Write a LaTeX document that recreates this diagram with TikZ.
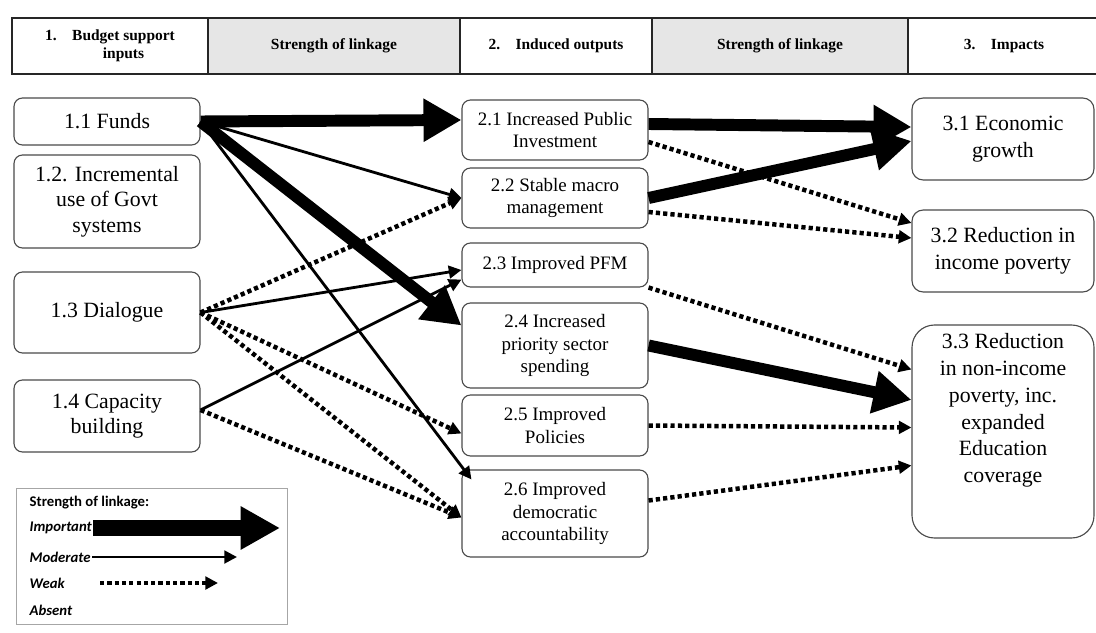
\documentclass[tikz,border=0pt]{standalone}
\usepackage{fontspec}
\setmainfont{Liberation Serif}
\newfontfamily\legendfont{Carlito}
\usepackage{tikz}
\usetikzlibrary{arrows.meta, calc}
\definecolor{boxgray}{HTML}{4A4A4A}
\definecolor{headfill}{HTML}{E6E6E6}

\begin{document}
\begin{tikzpicture}[
    head/.style={rectangle, draw=black!85, line width=0.9pt, minimum height=1.4cm, align=center, inner sep=0pt, font=\fontsize{11}{12.5}\selectfont\bfseries},
    headlink/.style={head, fill=headfill},
    input/.style={rectangle, rounded corners=6pt, draw=boxgray, fill=white, line width=0.8pt, minimum width=4.65cm, align=center, font=\fontsize{15.5}{18}\selectfont},
    output/.style={input, font=\fontsize{13.5}{16.3}\selectfont},
    impact/.style={input, rounded corners=8pt, minimum width=4.55cm, font=\fontsize{15.5}{19}\selectfont},
    legtext/.style={inner sep=1pt, font=\legendfont\fontsize{10.5}{12}\selectfont\bfseries\itshape},
    important/.style={line width=8.5pt, -{Triangle[length=27pt, width=29pt]}},
    moderate/.style={line width=2pt, -{Triangle[length=9pt, width=9pt]}},
    weak/.style={line width=3.2pt, dash pattern=on 3pt off 2.2pt, -{Triangle[length=9pt, width=9pt]}}
]
\useasboundingbox (0,0) rectangle (27.4,-15.825);

% Header row
\node[head, minimum width=4.9cm] (hin) at (2.75,-1.15) {1.\quad Budget support\\\hphantom{1.\quad}inputs};
\node[headlink, minimum width=6.3cm] (hlink1) at (8.35,-1.15) {Strength of linkage};
\node[head, minimum width=4.8cm] (hout) at (13.9,-1.15) {2.\quad Induced outputs};
\node[headlink, minimum width=6.4cm] (hlink2) at (19.5,-1.15) {Strength of linkage};
\node[head, minimum width=4.8cm] (himp) at (25.1,-1.15) {3.\quad Impacts};

% Budget support inputs
\node[input, minimum height=1.175cm] (funds) at (2.675,-3.0375) {1.1 Funds};
\node[input, minimum height=2.325cm] (govt) at (2.675,-5.0375) {1.2. Incremental\\use of Govt\\systems};
\node[input, minimum height=2.025cm] (dialogue) at (2.675,-7.8125) {1.3 Dialogue};
\node[input, minimum height=1.8cm] (capacity) at (2.675,-10.4) {1.4 Capacity\\building};

% Induced outputs
\node[output, minimum height=1.5cm] (invest) at (13.875,-3.25) {2.1 Increased Public\\Investment};
\node[output, minimum height=1.5cm] (macro) at (13.875,-4.95) {2.2 Stable macro\\management};
\node[output, minimum height=1.1cm] (pfm) at (13.875,-6.625) {2.3 Improved PFM};
\node[output, minimum height=2.125cm] (priority) at (13.875,-8.6375) {2.4 Increased\\priority sector\\spending};
\node[output, minimum height=1.525cm] (policies) at (13.875,-10.6375) {2.5 Improved\\Policies};
\node[output, minimum height=2.175cm] (account) at (13.875,-12.8375) {2.6 Improved\\democratic\\accountability};

% Impacts
\node[impact, minimum height=2.05cm] (growth) at (25.075,-3.475) {3.1 Economic\\growth};
\node[impact, minimum height=2.05cm] (income) at (25.075,-6.275) {3.2 Reduction in\\income poverty};
\node[impact, rounded corners=16pt, minimum height=5.325cm] (nonincome) at (25.075,-10.7875) {3.3 Reduction\\in non-income\\poverty, inc.\\expanded\\Education\\coverage\\[0.5cm]};

% Inputs -> outputs
\draw[important] (funds.east) -- ([yshift=0.25cm]invest.west);
\draw[moderate] (funds.east) -- (macro.west);
\draw[important] (funds.east) -- ([yshift=0.5cm]priority.west);
\draw[moderate] (funds.east) -- ([shift={(0.25,-0.25)}]account.north west);
\draw[weak] (dialogue.east) -- (macro.west);
\draw[moderate] (dialogue.east) -- ([yshift=-0.125cm]pfm.west);
\draw[weak] (dialogue.east) -- ([yshift=-0.2cm]policies.west);
\draw[weak] (dialogue.east) -- ([yshift=-0.1cm]account.west);
\draw[moderate] ([yshift=0.15cm]capacity.east) -- ([yshift=0.2cm]pfm.south west);
\draw[weak] ([yshift=0.15cm]capacity.east) -- ([yshift=-0.1cm]account.west);

% Outputs -> impacts
\draw[important] ([yshift=0.15cm]invest.east) -- ([yshift=0.3cm]growth.west);
\draw[weak] ([yshift=-0.3cm]invest.east) -- ([yshift=0.7cm]income.west);
\draw[important] (macro.east) -- ([yshift=-0.05cm]growth.west);
\draw[weak] ([yshift=-0.35cm]macro.east) -- ([yshift=0.325cm]income.west);
\draw[weak] (pfm.south east) -- ([yshift=1.55cm]nonincome.west);
\draw[important] (priority.east) -- ([yshift=0.79cm]nonincome.west);
\draw[weak] (policies.east) -- ([yshift=0.1cm]nonincome.west);
\draw[weak] ([yshift=0.325cm]account.east) -- ([yshift=-0.85cm]nonincome.west);

% Legend
\node[draw=gray!70, line width=0.6pt, minimum width=6.775cm, minimum height=3.4cm] (legend) at (3.7875,-13.9) {};
\node[legtext, font=\legendfont\fontsize{10.5}{12}\selectfont\bfseries, anchor=west] (ltitle) at (0.7,-12.575) {Strength of linkage:};
\node[legtext, anchor=west] (limp) at (0.7,-13.2) {Important};
\node[legtext, anchor=west] (lmod) at (0.7,-13.925) {Moderate};
\node[legtext, anchor=west] (lweak) at (0.7,-14.575) {Weak};
\node[legtext, anchor=west] (labs) at (0.7,-15.25) {Absent};
\coordinate (limpend) at (7.0,-13.2);
\coordinate (lmodend) at (5.925,-13.925);
\coordinate (lweakstart) at (2.5,-14.575);
\coordinate (lweakend) at (5.45,-14.575);
\draw[important, line width=11pt, -{Triangle[length=28pt, width=29pt]}] (limp.east) -- (limpend);
\draw[moderate] (lmod.east) -- (lmodend);
\draw[weak] (lweakstart) -- (lweakend);

\end{tikzpicture}
\end{document}
